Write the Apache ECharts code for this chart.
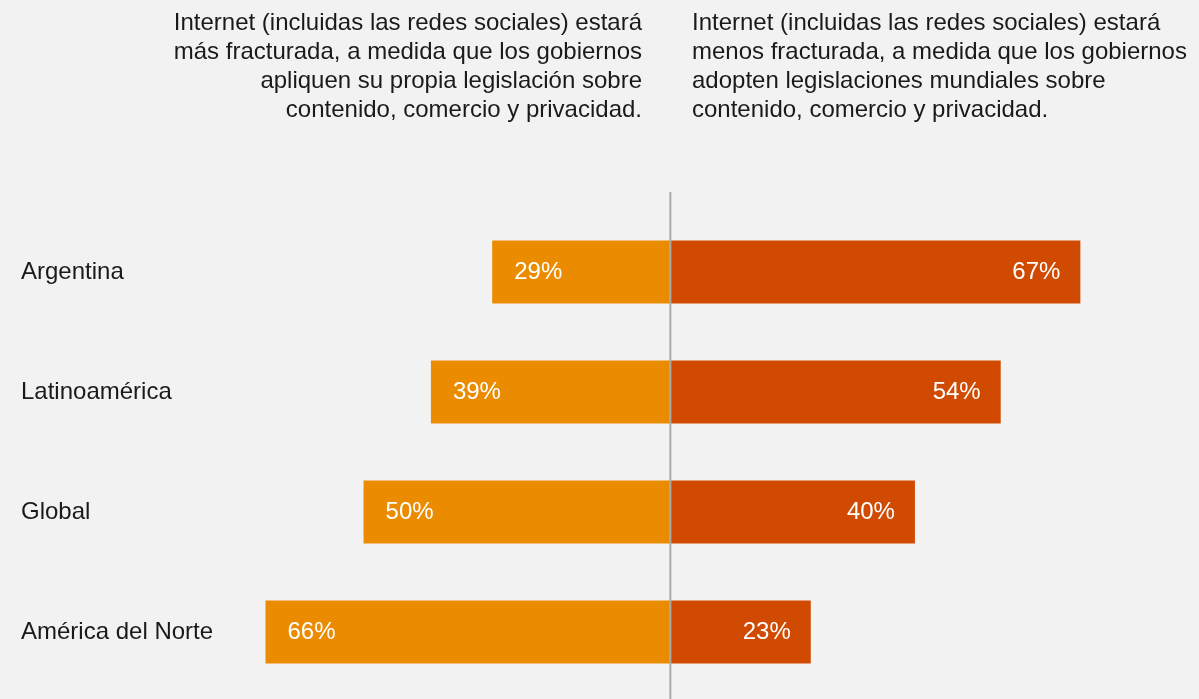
<!DOCTYPE html>
<html>
<head>
<meta charset="utf-8">
<script src="https://cdn.jsdelivr.net/npm/echarts@6/dist/echarts.min.js"></script>
<style>
  html, body { margin: 0; padding: 0; background: #f2f2f2; }
  #chart { width: 1199px; height: 699px; }
</style>
</head>
<body>
<div id="chart"></div>
<script>
// Regions, top to bottom
const categories = ['Argentina', 'Latinoamérica', 'Global', 'América del Norte'];
// Share who expect a more fractured internet (drawn to the left)
const masFracturada = [29, 39, 50, 66];
// Share who expect a less fractured internet (drawn to the right)
const menosFracturada = [67, 54, 40, 23];

const leftHeading = [
  'Internet (incluidas las redes sociales) estará',
  'más fracturada, a medida que los gobiernos',
  'apliquen su propia legislación sobre',
  'contenido, comercio y privacidad.'
];
const rightHeading = [
  'Internet (incluidas las redes sociales) estará',
  'menos fracturada, a medida que los gobiernos',
  'adopten legislaciones mundiales sobre',
  'contenido, comercio y privacidad.'
];

const FONT = '"Liberation Sans", Arial, Helvetica, sans-serif';
const chart = echarts.init(document.getElementById('chart'));

const gridLeft = 241;
chart.setOption({
  backgroundColor: '#f2f2f2',
  animation: false,
  grid: { left: gridLeft, right: 1199 - 1160, top: 212, bottom: 699 - 692 },
  xAxis: {
    type: 'value', min: -70, max: 80, show: false
  },
  yAxis: {
    type: 'category', data: categories, inverse: true,
    axisLine: { show: false }, axisTick: { show: false }, splitLine: { show: false },
    axisLabel: {
      align: 'left', margin: gridLeft - 21,
      color: '#1a1a1a', fontSize: 24, fontFamily: FONT
    }
  },
  series: [
    {
      name: 'más fracturada', type: 'bar', stack: 'total',
      data: masFracturada.map(v => -v),
      barWidth: 63,
      itemStyle: { color: '#eb8c00' },
      label: {
        show: true, position: 'insideLeft', distance: 22,
        color: '#ffffff', fontSize: 24, fontFamily: FONT,
        formatter: p => Math.abs(p.value) + '%'
      }
    },
    {
      name: 'menos fracturada', type: 'bar', stack: 'total',
      data: menosFracturada,
      barWidth: 63,
      itemStyle: { color: '#d04a02' },
      label: {
        show: true, position: 'insideRight', distance: 20,
        color: '#ffffff', fontSize: 24, fontFamily: FONT,
        formatter: p => p.value + '%'
      }
    }
  ]
});

// Centre divider at zero, plus the two column headings
const zeroX = chart.convertToPixel({ xAxisIndex: 0 }, 0);
chart.setOption({
  graphic: [
    {
      type: 'line', z: 10,
      shape: { x1: zeroX + 0.5, y1: 192, x2: zeroX + 0.5, y2: 699 },
      style: { stroke: '#aaaaaa', lineWidth: 2 }
    },
    {
      type: 'text', x: 642, y: 9,
      style: {
        text: leftHeading.join('\n'), align: 'right', verticalAlign: 'top',
        fill: '#1a1a1a', fontSize: 24, lineHeight: 29, fontFamily: FONT
      }
    },
    {
      type: 'text', x: 692, y: 9,
      style: {
        text: rightHeading.join('\n'), align: 'left', verticalAlign: 'top',
        fill: '#1a1a1a', fontSize: 24, lineHeight: 29, fontFamily: FONT
      }
    }
  ]
});
</script>
</body>
</html>
